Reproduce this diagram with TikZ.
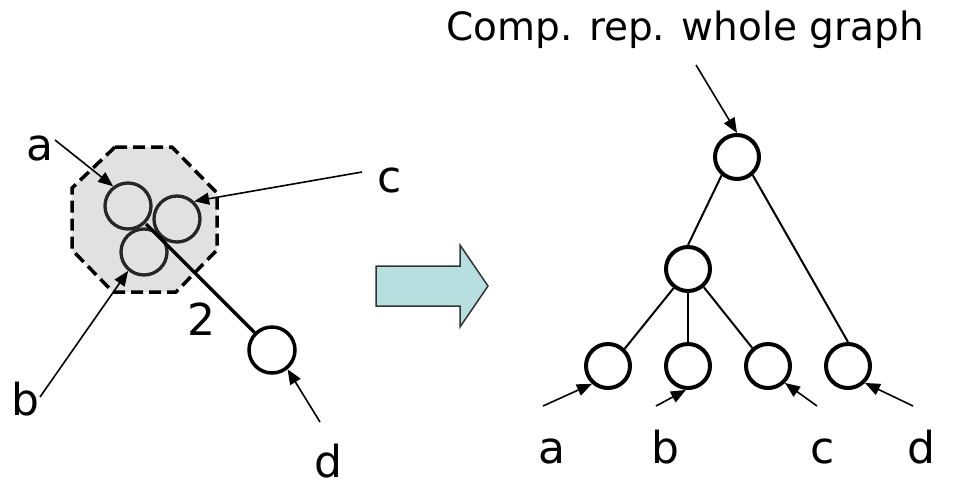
\documentclass[tikz,border=0pt]{standalone}
\usepackage{fontspec}
\setmainfont{DejaVu Sans}
\usetikzlibrary{arrows.meta}
\definecolor{octfill}{HTML}{E1E1E1}
\definecolor{circdark}{HTML}{262626}
\definecolor{bigarrow}{HTML}{B8DFE0}
\tikzset{
  lcirc/.style={circle, draw=circdark, line width=3.3pt, minimum size=46pt, inner sep=0pt},
  tcirc/.style={circle, draw=black, fill=white, line width=4pt, minimum size=44pt, inner sep=0pt},
  lbl/.style={anchor=base, inner sep=0pt, font=\fontsize{44}{50}\selectfont},
  toptxt/.style={anchor=base, inner sep=0pt, font=\fontsize{39}{46}\selectfont},
  arr/.style={line width=1.6pt, -{Triangle[length=15pt,width=12pt]}},
  tedge/.style={line width=2pt},
}
\begin{document}
\begin{tikzpicture}[x=1pt,y=-1pt]
\useasboundingbox (0,0) rectangle (961,483);
% octagon cluster
\draw[fill=octfill, line width=3.5pt, dash pattern=on 12pt off 6pt]
  (115,147) -- (172,147) -- (217,193) -- (217,250) -- (176,292) -- (113,292) -- (72,250) -- (72,188) -- cycle;
\node[lcirc] (ca) at (128,206) {};
\node[lcirc] (cc) at (177,219) {};
\node[lcirc] (cb) at (144,252) {};
\node[tcirc, line width=3.5pt, minimum size=46pt] (cd) at (272,350) {};
\coordinate (jn) at (146,224);
\draw[line width=3.3pt] (jn) -- (cd.135);
% left labels
\node[lbl] (la) at (40,160) {a};
\node[lbl] (lc) at (390,192) {c};
\node[lbl] (lb) at (25,415) {b};
\node[lbl] (ld) at (328,477) {d};
\node[lbl] (l2) at (201,335) {2};
\coordinate (sa) at (55,140);
\coordinate (sc) at (362,172);
\coordinate (sb) at (40,397);
\coordinate (sd) at (320,422);
\draw[arr] (sa) -- (ca.127);
\draw[arr] (sc) -- (cc.46);
\draw[arr] (sb) -- (cb.230);
\draw[arr] (sd) -- (cd.309);
% big arrow
\draw[fill=bigarrow, draw=black!80, line width=1.5pt, line join=miter]
  (376,266) -- (460,266) -- (460,245) -- (488,286) -- (460,327) -- (460,306) -- (376,306) -- cycle;
% tree
\node[toptxt] (title) at (685,40) {Comp. rep. whole graph};
\node[tcirc] (root) at (737,157) {};
\node[tcirc] (mid) at (688,269) {};
\node[tcirc] (ta) at (608,366) {};
\node[tcirc] (tb) at (688,366) {};
\node[tcirc] (tc) at (768,366) {};
\node[tcirc] (td) at (848,366) {};
\draw[tedge] (root.230) -- (mid.north);
\draw[tedge] (root.311) -- (td.north);
\draw[tedge] (mid.233) -- (ta.46);
\draw[tedge] (mid.south) -- (tb.north);
\draw[tedge] (mid.311) -- (tc.131);
\coordinate (sroot) at (696,65);
\draw[arr] (sroot) -- (root.north);
\coordinate (sta) at (543,406);
\coordinate (stb) at (656,406);
\coordinate (stc) at (817,406);
\coordinate (std) at (913,406);
\draw[arr] (sta) -- (ta.228);
\draw[arr] (stb) -- (tb.265);
\draw[arr] (stc) -- (tc.315);
\draw[arr] (std) -- (td.315);
\node[lbl] (ba) at (552,463) {a};
\node[lbl] (bb) at (665,463) {b};
\node[lbl] (bc) at (823,463) {c};
\node[lbl] (bd) at (921,463) {d};
\end{tikzpicture}
\end{document}
